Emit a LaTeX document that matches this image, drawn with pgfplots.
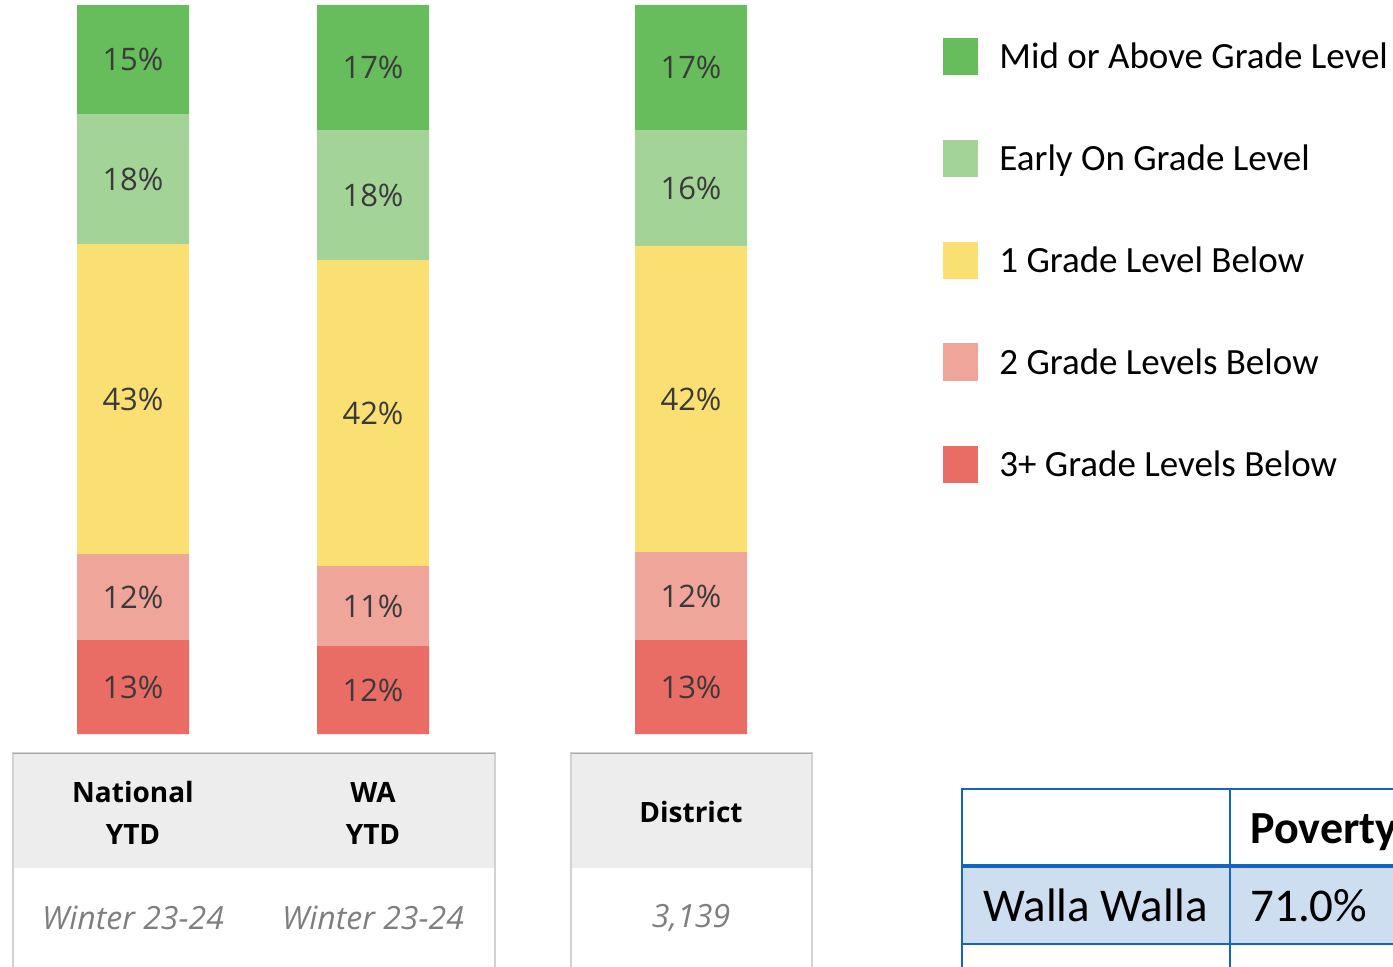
\documentclass[border=0pt]{standalone}
\usepackage{pgfplots}
\usepackage{pgfplotstable}
\pgfplotsset{compat=1.18}
\usepackage{fontspec}
\setmainfont{Carlito}
\newfontfamily\os{Open Sans}
\definecolor{cmid}{HTML}{67BD5B}
\definecolor{cearly}{HTML}{A3D397}
\definecolor{cone}{HTML}{FADF73}
\definecolor{ctwo}{HTML}{F0A59A}
\definecolor{cthree}{HTML}{E96D65}
\definecolor{labelgray}{HTML}{3A3A3A}
\definecolor{hdrgray}{HTML}{EDEDED}
\definecolor{boxline}{HTML}{D2D2D2}
\definecolor{itgray}{HTML}{7F7F7F}
\definecolor{tblue}{HTML}{1565C0}
\definecolor{tfill}{HTML}{CEDEF1}

% segment heights (percent of bar), bottom to top:
% a = 3+ below, b = 2 below, c = 1 below, d = early on, e = mid or above
% la..le = printed labels
\pgfplotstableread{
x    a     b     c     d     e     la lb lc ld le
133  12.89 11.80 42.52 17.83 14.95 13 12 43 18 15
373  12.07 10.97 41.98 17.83 17.15 12 11 42 18 17
691  12.89 12.07 41.98 15.91 17.15 13 12 42 16 17
}\data
\pgfplotstablecreatecol[create col/expr={\thisrow{a}/2}]{ma}\data
\pgfplotstablecreatecol[create col/expr={\thisrow{a}+\thisrow{b}/2}]{mb}\data
\pgfplotstablecreatecol[create col/expr={\thisrow{a}+\thisrow{b}+\thisrow{c}/2}]{mc}\data
\pgfplotstablecreatecol[create col/expr={\thisrow{a}+\thisrow{b}+\thisrow{c}+\thisrow{d}/2}]{md}\data
\pgfplotstablecreatecol[create col/expr={\thisrow{a}+\thisrow{b}+\thisrow{c}+\thisrow{d}+\thisrow{e}/2}]{me}\data

\pgfplotsset{
  frame/.style={
    at={(0,0)}, anchor=south west,
    scale only axis, width=696.5pt, height=483pt,
    xmin=0, xmax=1393, ymin=-31.824, ymax=100.686,
    hide axis,
  },
  seglabel/.style={
    draw=none, mark=none,
    nodes near coords={\pgfplotspointmeta\%},
    point meta=explicit symbolic,
    every node near coord/.style={font=\os\fontsize{15.5pt}{18pt}\selectfont, text=labelgray, anchor=center},
  },
}

\begin{document}
\begin{tikzpicture}
\useasboundingbox (0,0) rectangle (696.5pt,483pt);
\clip (0,0) rectangle (696.5pt,483pt);
\begin{axis}[frame, ybar stacked, bar width=112]
\addplot[fill=cthree, draw=none] table[x=x,y=a] {\data};
\addplot[fill=ctwo, draw=none] table[x=x,y=b] {\data};
\addplot[fill=cone, draw=none] table[x=x,y=c] {\data};
\addplot[fill=cearly, draw=none] table[x=x,y=d] {\data};
\addplot[fill=cmid, draw=none] table[x=x,y=e] {\data};
\end{axis}
\begin{axis}[frame]
\addplot[seglabel] table[x=x,y=ma,meta=la] {\data};
\addplot[seglabel] table[x=x,y=mb,meta=lb] {\data};
\addplot[seglabel] table[x=x,y=mc,meta=lc] {\data};
\addplot[seglabel] table[x=x,y=md,meta=ld] {\data};
\addplot[seglabel] table[x=x,y=me,meta=le] {\data};
\end{axis}

\begin{scope}[yshift=483pt, x=0.5pt, y=-0.5pt]
  % left box
  \fill[hdrgray] (13,753) rectangle (495,868);
  \draw[boxline, line width=1pt] (13,990) -- (13,753) -- (495,753) -- (495,990);
  \draw[boxline!80!black, line width=0.6pt] (13,753.5) -- (495,753.5);
  \node[font=\os\bfseries\fontsize{14pt}{21pt}\selectfont, align=center] at (133,813) {National\\YTD};
  \node[font=\os\bfseries\fontsize{14pt}{21pt}\selectfont, align=center] at (373,813) {WA\\YTD};
  \node[font=\os\itshape\fontsize{16pt}{18pt}\selectfont, text=itgray] at (133,918) {Winter 23-24};
  \node[font=\os\itshape\fontsize{16pt}{18pt}\selectfont, text=itgray] at (373,918) {Winter 23-24};
  % right box
  \fill[hdrgray] (571,753) rectangle (812,868);
  \draw[boxline, line width=1pt] (571,990) -- (571,753) -- (812,753) -- (812,990);
  \draw[boxline!80!black, line width=0.6pt] (571,753.5) -- (812,753.5);
  \node[font=\os\bfseries\fontsize{14pt}{21pt}\selectfont] at (691,812) {District};
  \node[font=\os\itshape\fontsize{16pt}{18pt}\selectfont, text=itgray] at (691,918) {3,139};
  % legend
  \fill[cmid]   (943,38.5)  rectangle (978,75.5);
  \fill[cearly] (943,140.5) rectangle (978,177.5);
  \fill[cone]   (943,242.5) rectangle (978,279.5);
  \fill[ctwo]   (943,343.5) rectangle (978,380.5);
  \fill[cthree] (943,445.5) rectangle (978,482.5);
  \begin{scope}[every node/.style={font=\fontsize{18.5pt}{22pt}\selectfont, anchor=base west, inner sep=0pt}]
    \node at (999,69) {Mid or Above Grade Level};
    \node at (999,171) {Early On Grade Level};
    \node at (999,273) {1 Grade Level Below};
    \node at (999,374) {2 Grade Levels Below};
    \node at (999,476) {3+ Grade Levels Below};
  \end{scope}
  % bottom right table
  \fill[tfill] (962,866) rectangle (1400,944);
  \draw[tblue, line width=1pt] (962,990) -- (962,789) -- (1400,789);
  \draw[tblue, line width=1pt] (1230,789) -- (1230,990);
  \draw[tblue, line width=2pt] (962,866) -- (1400,866);
  \draw[tblue, line width=1pt] (962,944) -- (1400,944);
  \node[font=\bfseries\fontsize{23pt}{27pt}\selectfont, anchor=base west, inner sep=0pt] at (1250,843) {Poverty};
  \node[font=\fontsize{23.5pt}{27pt}\selectfont, anchor=base west, inner sep=0pt] at (983,921) {Walla Walla};
  \node[font=\fontsize{23.5pt}{27pt}\selectfont, anchor=base west, inner sep=0pt] at (1250,921) {71.0\%};
\end{scope}
\end{tikzpicture}
\end{document}
